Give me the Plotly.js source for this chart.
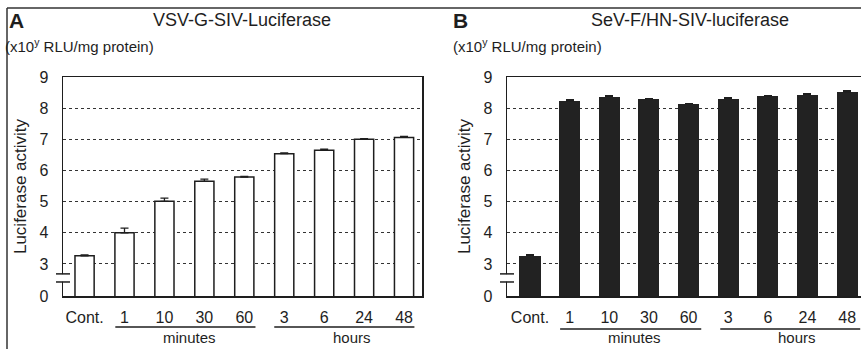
<!DOCTYPE html>
<html>
<head>
<meta charset="utf-8">
<script src="https://cdn.plot.ly/plotly-3.0.1.min.js"></script>
<style>html,body{margin:0;padding:0;background:#fff;}#chart{width:861px;height:349px;}</style>
</head>
<body>
<div id="chart"></div>
<script>
// ---- data ----
const categories = ['Cont.', '1', '10', '30', '60', '3', '6', '24', '48'];
const valuesA = [3.26, 4.00, 5.01, 5.65, 5.79, 6.54, 6.65, 7.00, 7.06];
const errorsA = [0.03, 0.15, 0.10, 0.07, 0.02, 0.02, 0.03, 0.02, 0.03];
const valuesB = [3.27, 8.23, 8.37, 8.30, 8.14, 8.31, 8.38, 8.43, 8.52];
const errorsB = [0.02, 0.03, 0.02, 0.02, 0.02, 0.02, 0.02, 0.03, 0.03];
const yTickVals = [1.97, 3, 4, 5, 6, 7, 8, 9];   // broken axis: "0" sits just below 3
const yTickText = ['0', '3', '4', '5', '6', '7', '8', '9'];
const groupLabels = ['minutes', 'hours'];
const titleA = 'VSV-G-SIV-Luciferase';
const titleB = 'SeV-F/HN-SIV-luciferase';
const unitText = '(x10<sup>y</sup> RLU/mg protein)';
const yTitle = 'Luciferase activity';

const W = 861, H = 349;
const px = x => x / W;
const py = y => 1 - y / H;
const ink = '#1e1e1e';
const FONT = 'Liberation Sans, Arial, sans-serif';

const zeros = categories.map(() => 0);

const traces = [
  {
    type: 'bar', x: categories, y: valuesA, xaxis: 'x', yaxis: 'y',
    width: 0.48,
    marker: {color: '#ffffff', line: {color: ink, width: 1.5}},
    error_y: {type: 'data', symmetric: false, array: errorsA, arrayminus: zeros, color: ink, thickness: 1.3, width: 4},
    hoverinfo: 'skip'
  },
  {
    type: 'bar', x: categories, y: valuesB, xaxis: 'x2', yaxis: 'y2',
    width: 0.53,
    marker: {color: '#222222', line: {color: '#222222', width: 0}},
    error_y: {type: 'data', symmetric: false, array: errorsB, arrayminus: zeros, color: ink, thickness: 1.3, width: 4},
    hoverinfo: 'skip'
  }
];

function xAxis(domain, range, mirror) {
  return {
    domain: domain, range: range, type: 'category',
    showline: true, linecolor: ink, linewidth: 1.5, mirror: mirror,
    ticks: '', showgrid: false, zeroline: false,
    tickfont: {family: FONT, size: 16, color: ink},
    ticklabelstandoff: 6,
    fixedrange: true
  };
}
function yAxis(anchor, mirror) {
  return {
    anchor: anchor,
    domain: [py(296), py(77)], range: [1.97, 9],
    tickvals: yTickVals, ticktext: yTickText,
    showline: true, linecolor: ink, linewidth: 1.5, mirror: mirror,
    ticks: '', zeroline: false,
    showgrid: true, gridcolor: '#333333', gridwidth: 1, griddash: 'dot',
    tickfont: {family: FONT, size: 16, color: ink},
    ticklabelstandoff: 10,
    title: {text: yTitle, font: {family: FONT, size: 17, color: ink}, standoff: 8},
    fixedrange: true
  };
}

const groupFont = {family: FONT, size: 15, color: ink};

const layout = {
  width: W, height: H,
  margin: {l: 0, r: 0, t: 0, b: 0},
  paper_bgcolor: '#ffffff', plot_bgcolor: '#ffffff',
  showlegend: false,
  bargap: 0,
  xaxis: Object.assign(xAxis([px(63), px(422)], [-0.54, 8.45], true), {anchor: 'y'}),
  yaxis: yAxis('x', true),
  xaxis2: Object.assign(xAxis([px(507), 1], [-0.58, 8.35], true), {anchor: 'y2'}),
  yaxis2: yAxis('x2', false),
  annotations: [
    {text: '<b>A</b>', xref: 'paper', yref: 'paper', x: px(7), y: py(20), xanchor: 'left', yanchor: 'middle', showarrow: false, font: {family: FONT, size: 21, color: ink}},
    {text: titleA, xref: 'paper', yref: 'paper', x: px(242), y: py(20), xanchor: 'center', yanchor: 'middle', showarrow: false, font: {family: FONT, size: 18, color: ink}},
    {text: unitText, xref: 'paper', yref: 'paper', x: px(3), y: py(46), xanchor: 'left', yanchor: 'middle', showarrow: false, font: {family: FONT, size: 15, color: ink}},
    {text: '<b>B</b>', xref: 'paper', yref: 'paper', x: px(451), y: py(20), xanchor: 'left', yanchor: 'middle', showarrow: false, font: {family: FONT, size: 21, color: ink}},
    {text: titleB, xref: 'paper', yref: 'paper', x: px(690), y: py(20), xanchor: 'center', yanchor: 'middle', showarrow: false, font: {family: FONT, size: 18, color: ink}},
    {text: unitText, xref: 'paper', yref: 'paper', x: px(451), y: py(46), xanchor: 'left', yanchor: 'middle', showarrow: false, font: {family: FONT, size: 15, color: ink}},
    {text: groupLabels[0], xref: 'x', yref: 'paper', x: 2.62, y: 0, xanchor: 'center', yanchor: 'bottom', yshift: 1, showarrow: false, font: groupFont},
    {text: groupLabels[1], xref: 'x', yref: 'paper', x: 6.7, y: 0, xanchor: 'center', yanchor: 'bottom', yshift: 1, showarrow: false, font: groupFont},
    {text: groupLabels[0], xref: 'x2', yref: 'paper', x: 2.63, y: 0, xanchor: 'center', yanchor: 'bottom', yshift: 1, showarrow: false, font: groupFont},
    {text: groupLabels[1], xref: 'x2', yref: 'paper', x: 6.74, y: 0, xanchor: 'center', yanchor: 'bottom', yshift: 1, showarrow: false, font: groupFont}
  ],
  shapes: []
};

// frame lines
layout.shapes.push({type: 'line', xref: 'paper', yref: 'paper', x0: px(7), x1: 1, y0: py(8), y1: py(8), line: {color: '#333', width: 1.5}, layer: 'above'});
layout.shapes.push({type: 'line', xref: 'paper', yref: 'paper', x0: px(7), x1: px(7), y0: py(8), y1: 0, line: {color: '#333', width: 1.5}, layer: 'above'});

// axis breaks
[['x domain', 'y'], ['x2 domain', 'y2']].forEach(([xr, yr]) => {
  layout.shapes.push({type: 'rect', xref: xr, yref: yr, xsizemode: 'pixel', xanchor: 0, x0: -2, x1: 2, y0: 2.43, y1: 2.67, fillcolor: '#ffffff', line: {width: 0}, layer: 'above'});
  layout.shapes.push({type: 'line', xref: xr, yref: yr, xsizemode: 'pixel', xanchor: 0, x0: -7, x1: 7, y0: 2.68, y1: 2.68, line: {color: ink, width: 1.5}, layer: 'above'});
  layout.shapes.push({type: 'line', xref: xr, yref: yr, xsizemode: 'pixel', xanchor: 0, x0: -7, x1: 7, y0: 2.42, y1: 2.42, line: {color: ink, width: 1.5}, layer: 'above'});
});

// group underlines
[['x', 0.77, 4.28, 327], ['x', 4.75, 8.26, 327], ['x2', 0.76, 4.32, 329], ['x2', 4.8, 8.33, 329]].forEach(([xr, a, b, y]) => {
  layout.shapes.push({type: 'line', xref: xr, yref: 'paper', x0: a, x1: b, y0: py(y), y1: py(y), line: {color: ink, width: 1.3}});
});

Plotly.newPlot('chart', traces, layout, {staticPlot: true, displayModeBar: false});
</script>
</body>
</html>
